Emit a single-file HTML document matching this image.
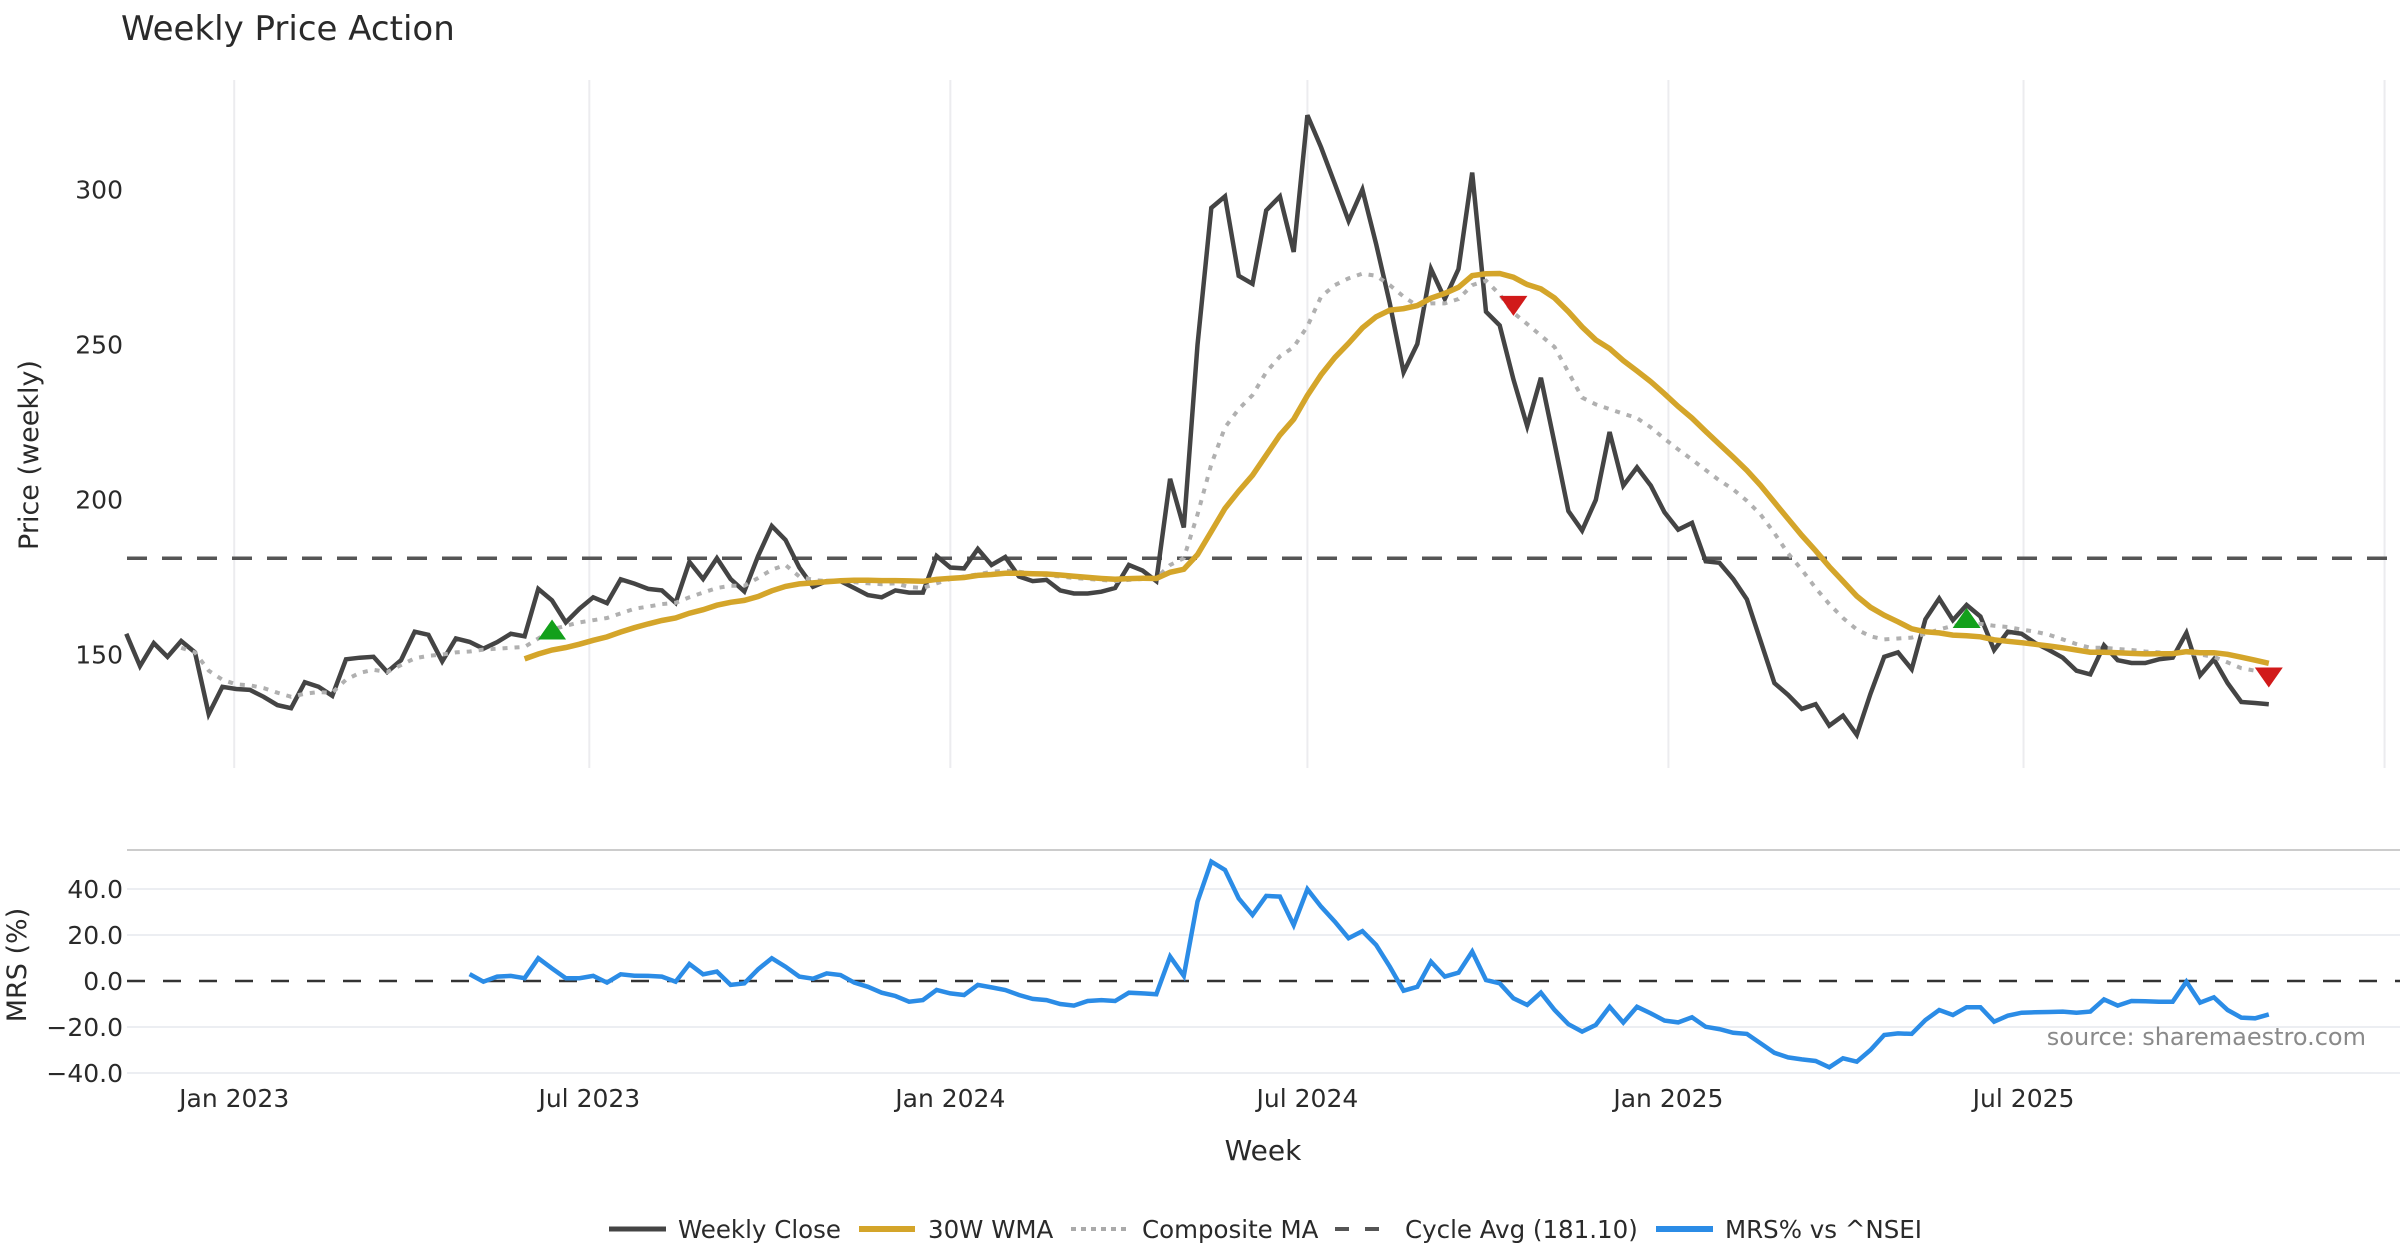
<!DOCTYPE html>
<html><head><meta charset="utf-8"><style>
html,body{margin:0;padding:0;background:#fff;}
svg{display:block;font-family:"DejaVu Sans","Liberation Sans",sans-serif;}
</style></head><body>
<svg id="chart" width="2400" height="1260" viewBox="0 0 2400 1260" xmlns="http://www.w3.org/2000/svg">
<rect width="2400" height="1260" fill="#fff"/>
<text x="121" y="40" font-size="34" fill="#2a2a2a">Weekly Price Action</text>
<g id="grid"></g>
<g id="series"></g>
<g id="axes"></g>
<text transform="translate(38,455) rotate(-90)" text-anchor="middle" font-size="27" fill="#2a2a2a">Price (weekly)</text>
<text transform="translate(26,965) rotate(-90)" text-anchor="middle" font-size="27" fill="#2a2a2a">MRS (%)</text>
<text x="1263" y="1160" text-anchor="middle" font-size="28" fill="#2a2a2a">Week</text>
<text x="2366" y="1045" text-anchor="end" font-size="24" fill="#8a8a8a">source: sharemaestro.com</text>
<g font-size="24.5" fill="#2a2a2a">
 <g><line x1="609" y1="1229" x2="666" y2="1229" stroke="#444" stroke-width="5"/><text x="678" y="1238">Weekly Close</text></g>
 <g><line x1="859" y1="1229" x2="915" y2="1229" stroke="#D4A52A" stroke-width="6"/><text x="928" y="1238">30W WMA</text></g>
 <g><line x1="1071" y1="1229" x2="1128" y2="1229" stroke="#aaa" stroke-width="4" stroke-dasharray="5,5"/><text x="1142" y="1238">Composite MA</text></g>
 <g><line x1="1335" y1="1229" x2="1393" y2="1229" stroke="#555" stroke-width="4" stroke-dasharray="14,16"/><text x="1405" y="1238">Cycle Avg (181.10)</text></g>
 <g><line x1="1656" y1="1229" x2="1713" y2="1229" stroke="#2b8ce6" stroke-width="6"/><text x="1725" y="1238">MRS% vs ^NSEI</text></g>
</g>
</svg>
<script>
const closeVals = [156.7,146.3,153.7,149.3,154.4,150.7,130.8,139.6,138.9,138.6,
136.4,133.7,132.7,141.1,139.6,136.7,148.5,149.0,149.3,144.4,
148.2,157.4,156.4,147.8,155.2,154.1,151.9,154.0,156.7,155.9,
171.2,167.5,160.4,164.8,168.5,166.6,174.3,172.9,171.2,170.7,
166.7,179.9,174.4,181.1,174.4,170.4,181.8,191.5,187.0,178.1,
171.9,173.7,173.7,171.5,169.2,168.5,170.7,
170.0,170.0,181.8,178.1,177.8,184.1,178.9,181.5,175.2,173.7,
174.1,170.7,169.7,169.7,170.3,171.5,178.9,177.1,173.7,206.7,
191.0,249.9,294.1,297.8,272.2,269.6,293.3,297.8,279.9,324.0,
313.6,301.8,289.9,300.0,282.5,263.3,241.1,250.2,274.4,264.7,
274.4,305.5,260.6,256.2,238.8,223.7,239.3,218.1,196.3,190.0,
199.9,221.8,204.5,210.4,204.5,
195.9,190.3,192.5,180.1,179.6,174.4,167.8,154.4,140.8,137.0,
132.5,134.0,127.1,130.3,124.1,137.4,149.3,150.7,145.3,161.4,
168.1,161.1,166.0,162.3,151.5,157.4,156.7,153.7,151.5,149.0,
144.8,143.6,153.0,148.2,147.3,147.3,148.5,149.0,157.0,143.3,
148.5,140.8,134.7,134.4,134.0];
const compositeVals = [null,null,null,null,152.2,150.7,144.8,141.9,140.4,140.1,
139.2,137.7,136.4,137.4,137.9,137.7,141.9,144.1,145.1,144.4,
146.6,148.8,149.6,150.0,150.7,151.0,151.6,151.9,152.2,152.5,
155.2,158.1,159.3,160.4,161.1,161.8,163.3,164.8,165.5,166.3,
166.7,168.5,170.0,171.5,172.2,172.2,174.7,177.4,178.9,175.2,
174.1,173.7,173.7,173.4,173.0,172.7,173.0,
171.8,171.5,173.0,174.4,175.2,175.9,176.7,177.1,176.7,176.2,
175.6,175.2,174.7,174.4,174.1,173.7,174.1,174.4,174.7,178.9,
181.1,195.2,211.4,223.3,229.2,233.7,241.1,246.2,249.2,255.9,
265.5,269.2,271.4,272.9,272.2,269.2,265.5,262.5,263.3,263.3,
264.7,269.2,270.6,266.2,260.3,256.6,252.9,249.2,241.1,232.9,
230.7,229.2,227.7,226.3,223.3,
219.6,216.2,212.9,209.5,206.2,203.3,199.6,195.2,189.2,182.6,
177.4,171.5,166.3,161.8,158.1,155.9,154.9,155.2,155.5,156.7,
158.1,159.3,159.9,159.9,159.3,158.9,158.1,157.4,156.4,154.9,
153.4,152.2,152.2,151.8,151.5,151.0,150.7,150.4,150.7,150.0,
149.3,147.5,145.6,144.8,null];
const mrsVals = [null,null,null,null,null,null,null,null,null,null,
null,null,null,null,null,null,null,null,null,null,
null,null,null,null,null,3.0,-0.3,1.9,2.2,1.2,
9.9,5.5,1.2,1.2,2.2,-0.7,2.9,2.3,2.2,1.9,
-0.3,7.4,2.9,4.1,-1.7,-1.0,5.1,9.9,6.2,1.9,
1.0,3.3,2.6,-0.7,-2.5,-5.1,-6.5,-9.0,-8.3,-3.9,
-5.4,-6.1,-1.7,-2.8,-3.9,-6.1,-7.8,-8.3,-10.0,-10.7,
-8.7,-8.3,-8.7,-5.1,-5.4,-5.8,10.6,2.2,34.5,51.9,
48.3,35.9,28.7,37.0,36.7,24.3,39.9,32.3,25.8,18.6,
21.7,15.7,6.2,-4.2,-2.5,8.4,1.9,3.6,12.8,0.4,
-1.0,-7.5,-10.4,-5.1,-12.6,-18.8,-22.0,-19.1,-11.2,-18.1,
-11.2,-14.1,-17.2,-18.0,-15.8,-19.9,-20.9,-22.5,-23.0,-27.1,
-31.2,-33.2,-34.1,-34.8,-37.5,-33.6,-35.1,-30.0,-23.5,-22.8,
-23.0,-17.0,-12.6,-14.8,-11.4,-11.4,-17.7,-15.1,-13.8,-13.6,
-13.5,-13.3,-13.8,-13.3,-8.0,-10.7,-8.7,-8.8,-9.0,-9.0,
-0.3,-9.4,-7.1,-12.6,-15.9,-16.2,-14.5];
const cycleAvg = 181.10;
const buyIdx = [31, 134];
const buyPrice = [158.1, 161.8];
const sellIdx = [101, 156];
const sellPrice = [262.5, 142.6];
const priceTicks = [150, 200, 250, 300];
const mrsTicks = [40, 20, 0, -20, -40];
const xTickLabels = ["Jan 2023","Jul 2023","Jan 2024","Jul 2024","Jan 2025","Jul 2025","Jan 2026"];
const xTickDates = ["2023-01-01","2023-07-01","2024-01-01","2024-07-01","2025-01-01","2025-07-01","2026-01-01"];
const startDate = "2022-11-07";

const NS = "http://www.w3.org/2000/svg";
const DAY = 86400000;
const ref = Date.parse("2023-01-01");
function xDate(ms){ return 234.2 + (ms - ref)/DAY*1.962; }
function xIdx(i){ return xDate(Date.parse(startDate) + i*7*DAY); }
function yP(p){ return 654.6 - (p-150)*3.1; }
function yM(v){ return 981 - v*2.3; }
function mk(tag, attrs, parent){ const e=document.createElementNS(NS,tag); for(const k in attrs) e.setAttribute(k, attrs[k]); parent.appendChild(e); return e; }
const grid=document.getElementById('grid'), series=document.getElementById('series'), axes=document.getElementById('axes');

xTickDates.forEach((d,k)=>{
  const x = xDate(Date.parse(d));
  const g = mk('line',{x1:x,y1:80,x2:x,y2:768,stroke:'#ececef','stroke-width':2},grid);
  
  
  if (x < 2360) {
    const t = mk('text',{x:x,y:1107,'text-anchor':'middle','font-size':25,fill:'#2a2a2a'},axes);
    t.textContent = xTickLabels[k];
    
    
  }
});
priceTicks.forEach(p=>{
  const t = mk('text',{x:123,y:yP(p)+9,'text-anchor':'end','font-size':25,fill:'#2a2a2a'},axes);
  t.textContent = p;
  
  
});
const sep = mk('line',{x1:127,y1:850,x2:2400,y2:850,stroke:'#ccc','stroke-width':2},grid);


mrsTicks.forEach(v=>{
  const y=yM(v);
  if(v!==0){
    const l = mk('line',{x1:127,y1:y,x2:2400,y2:y,stroke:'#eceef2','stroke-width':2},grid);
    
    
  }
  const t = mk('text',{x:123,y:y+9,'text-anchor':'end','font-size':25,fill:'#2a2a2a'},axes);
  t.textContent = (v<0?'\u2212':'') + Math.abs(v).toFixed(1);
  
  
});

function pathFrom(vals, yf){
  let d='', pen=false;
  vals.forEach((v,i)=>{ if(v===null||v===undefined){pen=false;return;} d += (pen?'L':'M') + xIdx(i).toFixed(1) + ',' + yf(v).toFixed(1); pen=true; });
  return d;
}
// 30-week weighted moving average of closes
const wmaVals = closeVals.map((v,i)=>{
  if(i<29) return null;
  let s=0, w=0;
  for(let k=0;k<30;k++){ s += closeVals[i-29+k]*(k+1); w += k+1; }
  return s/w;
});

const cyc = mk('line',{x1:127,y1:yP(cycleAvg),x2:2400,y2:yP(cycleAvg),stroke:'#555','stroke-width':3.5,'stroke-dasharray':'20,15'},series);


const pc = mk('path',{d:pathFrom(closeVals,yP),fill:'none',stroke:'#444','stroke-width':4.5,'stroke-linejoin':'miter'},series);


const pg = mk('path',{d:pathFrom(compositeVals,yP),fill:'none',stroke:'#b0b0b0','stroke-width':4,'stroke-dasharray':'5,7'},series);


const pw = mk('path',{d:pathFrom(wmaVals,yP),fill:'none',stroke:'#D4A52A','stroke-width':5.5},series);



buyIdx.forEach((i,k)=>{
  const x=xIdx(i), y=yP(buyPrice[k]);
  const t = mk('polygon',{points:`${x-14},${y+10} ${x+14},${y+10} ${x},${y-10}`,fill:'#13a01b'},series);
  
  
});
sellIdx.forEach((i,k)=>{
  const x=xIdx(i), y=yP(sellPrice[k]);
  const t = mk('polygon',{points:`${x-14},${y-10} ${x+14},${y-10} ${x},${y+10}`,fill:'#d11a1a'},series);
  
  
});

const zl = mk('line',{x1:127,y1:yM(0),x2:2400,y2:yM(0),stroke:'#333','stroke-width':2.5,'stroke-dasharray':'18,18'},series);


const pm = mk('path',{d:pathFrom(mrsVals,yM),fill:'none',stroke:'#2b8ce6','stroke-width':4.5},series);


</script>
</body></html>
